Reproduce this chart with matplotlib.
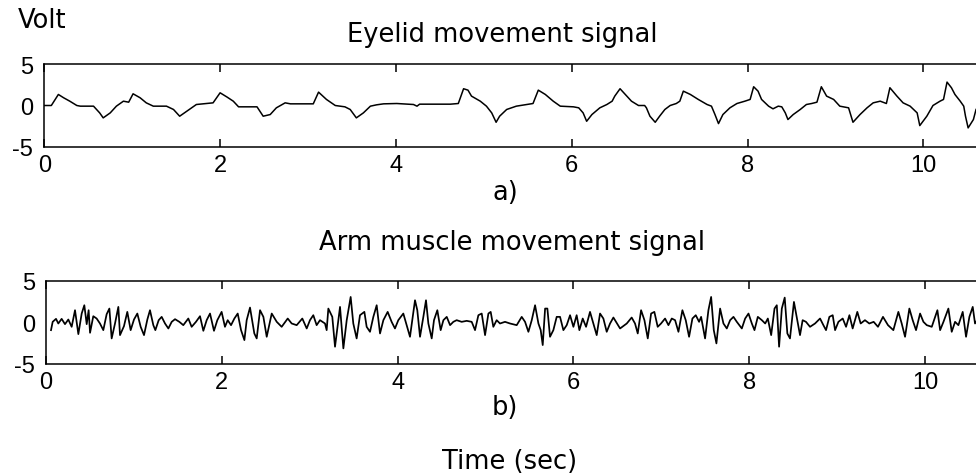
import matplotlib
matplotlib.use("Agg")
import matplotlib.pyplot as plt

plt.rcParams['axes.unicode_minus'] = False

# ---------------- data ----------------
eyelid_t = [0.00, 0.08, 0.16, 0.22, 0.29, 0.37, 0.41, 0.56, 0.63, 0.67, 0.75, 0.82, 0.90, 0.96,
            1.01, 1.09, 1.16, 1.24, 1.39, 1.47, 1.54, 1.62, 1.73, 1.85, 1.92, 2.00, 2.08, 2.15,
            2.21, 2.30, 2.42, 2.49, 2.57, 2.64, 2.74, 2.80, 3.06, 3.12, 3.21, 3.31, 3.42, 3.48,
            3.55, 3.63, 3.71, 3.78, 3.86, 4.01, 4.20, 4.24, 4.27, 4.62, 4.71, 4.77, 4.82, 4.86,
            4.96, 5.03, 5.09, 5.14, 5.18, 5.26, 5.37, 5.49, 5.56, 5.62, 5.70, 5.79, 5.87, 6.02,
            6.08, 6.13, 6.17, 6.23, 6.32, 6.40, 6.46, 6.49, 6.55, 6.61, 6.68, 6.76, 6.83, 6.85,
            6.89, 6.95, 7.00, 7.06, 7.12, 7.19, 7.23, 7.27, 7.35, 7.44, 7.54, 7.59, 7.63, 7.67,
            7.72, 7.80, 7.88, 7.97, 8.03, 8.07, 8.12, 8.16, 8.24, 8.29, 8.35, 8.39, 8.43, 8.46,
            8.52, 8.60, 8.67, 8.73, 8.79, 8.84, 8.90, 8.98, 9.05, 9.15, 9.20, 9.28, 9.36, 9.43,
            9.51, 9.58, 9.62, 9.70, 9.77, 9.85, 9.93, 9.96, 10.04, 10.11, 10.19, 10.23, 10.27,
            10.32, 10.36, 10.42, 10.46, 10.48, 10.51, 10.57, 10.60]
eyelid_v = [0.00, 0.00, 1.33, 0.93, 0.52, 0.00, -0.08, -0.08, -0.89, -1.49, -0.89, -0.08, 0.52, 0.40,
            1.41, 0.93, 0.32, -0.08, -0.08, -0.48, -1.29, -0.69, 0.12, 0.24, 0.32, 1.53, 1.01, 0.52,
            -0.16, -0.16, -0.16, -1.29, -1.09, -0.28, 0.32, 0.20, 0.20, 1.61, 0.73, 0.00, -0.16, -0.48,
            -1.49, -0.89, -0.08, 0.08, 0.20, 0.24, 0.12, -0.08, 0.16, 0.16, 0.24, 2.02, 1.85, 1.13,
            0.52, -0.08, -0.89, -2.02, -1.29, -0.48, -0.08, 0.12, 0.24, 1.85, 1.33, 0.52, -0.08, -0.16,
            -0.28, -0.89, -1.90, -1.09, -0.28, 0.12, 0.52, 1.13, 2.02, 1.33, 0.52, 0.00, 0.00, -0.28,
            -1.29, -2.02, -1.29, -0.48, 0.00, 0.24, 0.52, 1.73, 1.33, 0.73, 0.12, -0.08, -1.09, -2.18,
            -1.09, -0.28, 0.24, 0.52, 0.73, 2.26, 1.73, 0.73, -0.08, -0.40, -0.08, -0.16, -0.89, -1.69,
            -1.09, -0.48, 0.12, 0.24, 0.40, 2.26, 1.13, 0.73, -0.08, -0.28, -2.02, -1.09, -0.28, 0.32,
            0.52, 0.24, 2.14, 1.13, 0.32, -0.08, -0.89, -2.42, -1.29, 0.00, 0.52, 0.73, 2.82,
            2.14, 1.33, 0.52, -0.08, -1.29, -2.70, -1.69, -0.48]

arm_t = [0.057, 0.076, 0.114, 0.140, 0.178, 0.216, 0.254, 0.292, 0.330, 0.368, 0.406, 0.436, 0.463,
         0.485, 0.501, 0.538, 0.576, 0.614, 0.652, 0.690, 0.721, 0.747, 0.785, 0.823, 0.842, 0.887,
         0.925, 0.963, 1.001, 1.039, 1.077, 1.115, 1.153, 1.183, 1.221, 1.244, 1.282, 1.316, 1.354,
         1.392, 1.430, 1.468, 1.517, 1.562, 1.619, 1.657, 1.706, 1.752, 1.790, 1.828, 1.866, 1.911,
         1.949, 1.998, 2.036, 2.067, 2.105, 2.143, 2.181, 2.219, 2.257, 2.283, 2.321, 2.370, 2.397,
         2.435, 2.473, 2.511, 2.568, 2.625, 2.681, 2.750, 2.795, 2.852, 2.916, 2.966, 3.003, 3.041,
         3.079, 3.117, 3.174, 3.193, 3.212, 3.257, 3.288, 3.345, 3.383, 3.421, 3.466, 3.496, 3.534,
         3.572, 3.622, 3.648, 3.686, 3.724, 3.762, 3.800, 3.838, 3.887, 3.932, 3.970, 4.008, 4.065,
         4.103, 4.141, 4.198, 4.224, 4.255, 4.293, 4.323, 4.350, 4.388, 4.414, 4.452, 4.490, 4.521,
         4.559, 4.597, 4.634, 4.672, 4.729, 4.786, 4.843, 4.881, 4.919, 4.957, 4.995, 5.033, 5.059,
         5.089, 5.127, 5.165, 5.222, 5.279, 5.355, 5.412, 5.450, 5.488, 5.526, 5.564, 5.602, 5.628,
         5.651, 5.678, 5.704, 5.734, 5.772, 5.810, 5.848, 5.886, 5.924, 5.962, 6.000, 6.037, 6.068,
         6.106, 6.144, 6.189, 6.227, 6.265, 6.303, 6.341, 6.379, 6.417, 6.455, 6.531, 6.607, 6.663,
         6.701, 6.732, 6.770, 6.808, 6.846, 6.884, 6.921, 6.959, 6.997, 7.043, 7.081, 7.119, 7.157,
         7.195, 7.240, 7.278, 7.316, 7.354, 7.392, 7.430, 7.453, 7.498, 7.536, 7.567, 7.597, 7.627,
         7.669, 7.707, 7.745, 7.783, 7.821, 7.859, 7.916, 7.954, 7.992, 8.030, 8.060, 8.098, 8.144,
         8.182, 8.212, 8.250, 8.288, 8.314, 8.340, 8.371, 8.404, 8.434, 8.464, 8.509, 8.540, 8.578,
         8.608, 8.646, 8.692, 8.749, 8.806, 8.844, 8.874, 8.912, 8.950, 8.977, 9.015, 9.064, 9.102,
         9.140, 9.177, 9.230, 9.268, 9.317, 9.366, 9.416, 9.465, 9.522, 9.579, 9.640, 9.697, 9.735,
         9.773, 9.822, 9.860, 9.898, 9.944, 9.982, 10.020, 10.077, 10.141, 10.172, 10.210, 10.266,
         10.304, 10.342, 10.380, 10.429, 10.467, 10.505, 10.543, 10.569, 10.600]
arm_v = [-0.92, 0.08, 0.44, -0.12, 0.44, -0.20, 0.36, -0.52, 1.48, -1.40, 1.08, 2.08, -0.20,
         1.48, -1.24, 0.76, 0.48, -0.12, -0.92, 1.00, 1.68, -1.92, -0.12, 1.88, -1.52, -0.44,
         1.28, -0.92, 0.36, 1.08, -0.52, -1.52, 0.36, 1.48, -0.32, -0.92, 0.28, 0.68, -0.12,
         -0.72, 0.08, 0.40, 0.08, -0.32, 0.48, -0.52, 0.08, 0.76, -1.00, 0.28, 1.08, -1.00,
         0.28, 1.28, -0.52, 0.28, -0.32, 0.48, 1.08, -0.92, -2.12, 0.28, 1.80, -1.32, -1.92,
         1.48, 0.68, -1.72, 1.08, 0.08, -0.52, 0.48, -0.12, -0.32, 0.48, -0.72, 0.28, 0.88,
         -0.32, 0.28, -0.12, -0.92, 1.68, 0.68, -2.92, 1.88, -3.12, 0.28, 3.08, -0.12, -1.92,
         0.88, 1.28, -0.52, -1.12, 0.68, 2.08, -1.32, 0.28, 1.28, 0.08, -0.72, 0.28, 1.08,
         -0.32, -1.72, 2.68, 1.48, -1.72, 0.68, 2.68, -0.12, -1.92, 0.28, 1.48, -0.92, 0.28,
         0.68, -0.32, 0.08, 0.28, 0.08, 0.20, 0.08, -0.92, 0.88, 1.08, -1.52, 1.08, 1.28,
         -0.52, 0.28, -0.12, 0.08, -0.12, -0.32, 0.68, 0.08, -1.12, 0.28, 2.08, -0.12, -0.92,
         -2.72, 1.68, 1.68, -1.72, -0.92, 0.68, 0.68, -0.92, -0.32, 0.88, -0.52, 0.88, -0.92,
         0.48, -0.52, 1.28, -0.12, -1.52, 1.08, 0.48, -1.12, -0.12, 0.60, -0.72, -0.12, 0.60,
         -0.12, -1.32, 1.48, 0.28, -1.92, 1.08, 1.28, -0.52, -0.12, 0.48, -0.32, 0.48, 0.28,
         -1.12, 1.48, 0.28, -1.72, 0.48, 0.88, 0.08, 0.68, -1.92, 1.48, 3.08, -0.92, -2.52,
         1.68, -0.12, -0.72, 0.28, 0.68, 0.08, -0.72, 0.48, 1.08, -0.12, -0.92, 0.68, 0.28,
         -0.12, 0.48, -1.52, 1.68, 2.08, -2.92, 1.68, 3.00, -1.32, -1.92, 2.48, 0.68, -1.52,
         0.28, 0.08, -0.52, -0.12, 0.48, -0.32, -0.92, 0.68, 0.88, -0.92, 0.08, 0.48, -0.52,
         0.88, -0.72, 1.28, -0.12, 0.28, -0.12, 0.08, -0.52, 0.68, -0.32, -0.92, 1.28, -0.12,
         -1.72, 1.68, 0.28, -0.92, 1.08, 0.08, -0.32, -0.52, 1.48, -0.92, 0.08, 1.68,
         -1.12, 0.08, -0.32, 1.28, -1.72, 0.68, 1.88, -0.12, 0.40]

x_ticks = [0, 2, 4, 6, 8, 10]
y_ticks = [-5, 0, 5]
y_ticklabels = ["-5", "0", "5"]

titles = ["Eyelid movement signal", "Arm muscle movement signal"]
panel_labels = ["a)", "b)"]

# ---------------- layout ----------------
W, H = 976, 477
fig = plt.figure(figsize=(W / 100, H / 100), dpi=100)

def fx(px):
    return px / W

def fy(py):
    return 1 - py / H

tick_font = dict(family="Liberation Sans", size=17)
text_font = dict(family="DejaVu Sans", size=18.5)

def make_axes(left_px, top_px, bottom_px, t, v, lw):
    ax = fig.add_axes([fx(left_px), fy(bottom_px), 1 - fx(left_px), fy(top_px) - fy(bottom_px)])
    ax.plot(t, v, color="black", lw=lw)
    ax.set_xlim(0, (W - left_px) / 87.9)
    ax.set_ylim(-5, 5)
    ax.spines["right"].set_visible(False)
    for s in ("left", "top", "bottom"):
        ax.spines[s].set_linewidth(1.1)
    ax.set_xticks(x_ticks)
    ax.set_xticklabels([str(x) for x in x_ticks], **tick_font)
    ax.set_yticks(y_ticks)
    ax.set_yticklabels(y_ticklabels, **tick_font)
    ax.tick_params(axis="x", direction="in", top=True, bottom=True, length=6, width=1.1, pad=5)
    ax.tick_params(axis="y", direction="in", left=True, length=0, pad=8)
    return ax

ax1 = make_axes(44.3, 65, 148, eyelid_t, eyelid_v, 1.1)
ax2 = make_axes(46, 282, 365, arm_t, arm_v, 1.25)

fig.text(fx(18), fy(21), "Volt", ha="left", va="center", **text_font)
fig.text(fx(502), fy(35), titles[0], ha="center", va="center", **text_font)
fig.text(fx(505), fy(193), panel_labels[0], ha="center", va="center", **text_font)
fig.text(fx(512), fy(243), titles[1], ha="center", va="center", **text_font)
fig.text(fx(505), fy(408), panel_labels[1], ha="center", va="center", **text_font)
fig.text(fx(510), fy(462), "Time (sec)", ha="center", va="center", **text_font)

fig.savefig("out.png", dpi=100)
